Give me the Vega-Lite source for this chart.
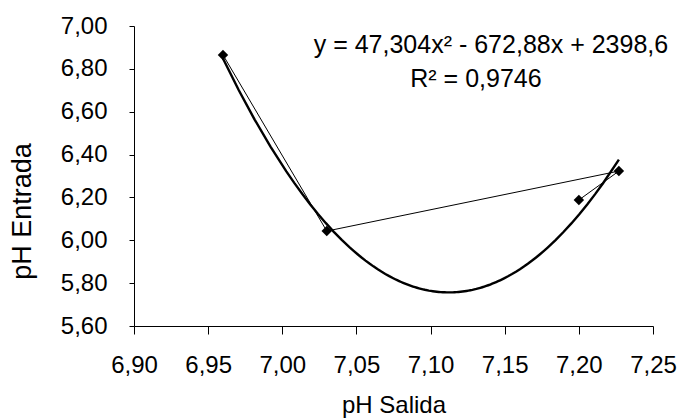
{
  "$schema": "https://vega.github.io/schema/vega-lite/v6.json",
  "autosize": "none",
  "width": 519,
  "height": 300,
  "padding": {"left": 134, "top": 26, "right": 36, "bottom": 93},
  "background": "white",
  "config": {
    "view": {"stroke": null},
    "font": "Liberation Sans",
    "axis": {
      "grid": false,
      "domainColor": "black",
      "domainWidth": 1,
      "tickColor": "black",
      "tickWidth": 1,
      "labelColor": "black",
      "titleColor": "black",
      "labelFont": "Liberation Sans",
      "titleFont": "Liberation Sans",
      "titleFontWeight": "normal"
    }
  },
  "data": {
    "values": [
      {"orden": 1, "salida": 6.96, "entrada": 6.865},
      {"orden": 2, "salida": 7.03, "entrada": 6.043},
      {"orden": 3, "salida": 7.227, "entrada": 6.323},
      {"orden": 4, "salida": 7.2, "entrada": 6.188}
    ]
  },
  "encoding": {
    "x": {
      "field": "salida",
      "type": "quantitative",
      "scale": {"domain": [6.9, 7.25], "zero": false, "nice": false},
      "axis": {
        "title": "pH Salida",
        "titleFontSize": 24,
        "labelFontSize": 24,
        "values": [6.9, 6.95, 7.0, 7.05, 7.1, 7.15, 7.2, 7.25],
        "labelExpr": "replace(format(datum.value, '.2f'), '.', ',')",
        "tickSize": 8,
        "labelPadding": 19,
        "titleBaseline": "alphabetic",
        "titleY": 86,
        "labelFlush": false
      }
    },
    "y": {
      "field": "entrada",
      "type": "quantitative",
      "scale": {"domain": [5.6, 7.0], "zero": false, "nice": false},
      "axis": {
        "title": "pH Entrada",
        "titleFontSize": 27,
        "labelFontSize": 24,
        "values": [5.6, 5.8, 6.0, 6.2, 6.4, 6.6, 6.8, 7.0],
        "labelExpr": "replace(format(datum.value, '.2f'), '.', ',')",
        "tickSize": 5,
        "labelPadding": 22,
        "titleAngle": -90,
        "titleAlign": "center",
        "titleBaseline": "alphabetic",
        "titleX": -104,
        "titleY": 185,
        "labelFlush": false
      }
    }
  },
  "layer": [
    {
      "mark": {"type": "line", "color": "black", "strokeWidth": 1},
      "encoding": {"order": {"field": "orden", "type": "quantitative"}}
    },
    {
      "transform": [
        {"regression": "entrada", "on": "salida", "method": "poly", "order": 2, "extent": [6.96, 7.227]}
      ],
      "mark": {"type": "line", "color": "black", "strokeWidth": 2.4}
    },
    {
      "mark": {"type": "point", "shape": "diamond", "filled": true, "color": "black", "size": 110, "opacity": 1}
    },
    {
      "transform": [{"filter": "datum.orden == 1"}],
      "mark": {"type": "text", "fontSize": 25, "fontWeight": 400, "font": "Liberation Sans", "fill": "black", "align": "center", "baseline": "alphabetic"},
      "encoding": {
        "x": {"datum": 7.1407, "type": "quantitative"},
        "y": {"datum": 6.874, "type": "quantitative"},
        "text": {"value": "y = 47,304x²  - 672,88x + 2398,6"}
      }
    },
    {
      "transform": [{"filter": "datum.orden == 1"}],
      "mark": {"type": "text", "fontSize": 25, "fontWeight": 400, "font": "Liberation Sans", "fill": "black", "align": "center", "baseline": "alphabetic"},
      "encoding": {
        "x": {"datum": 7.1306, "type": "quantitative"},
        "y": {"datum": 6.715, "type": "quantitative"},
        "text": {"value": "R² = 0,9746"}
      }
    }
  ]
}
